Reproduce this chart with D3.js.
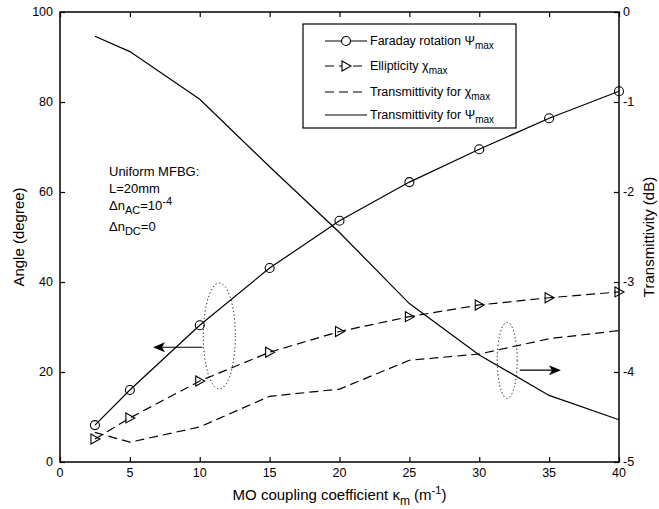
<!DOCTYPE html>
<html>
<head>
<meta charset="utf-8">
<script src="https://cdn.jsdelivr.net/npm/d3@7"></script>
<style>
  body { margin: 0; background: #fff; }
  svg text { font-family: "Liberation Sans", Arial, sans-serif; fill: #000; }
</style>
</head>
<body>
<div id="plot"></div>
<script>
// Data
const kappa = [2.5, 5, 10, 15, 20, 25, 30, 35, 40];
const faraday = [8.2, 16, 30.4, 43.1, 53.6, 62.2, 69.5, 76.4, 82.4];
const ellipticity = [5.1, 9.8, 18, 24.4, 29, 32.3, 34.9, 36.5, 37.8];
const transChi = [-4.67, -4.78, -4.61, -4.27, -4.19, -3.87, -3.8, -3.63, -3.54];
const transPsi = [-0.27, -0.44, -0.97, -1.72, -2.45, -3.24, -3.81, -4.26, -4.53];
const xTicks = [0, 5, 10, 15, 20, 25, 30, 35, 40];
const leftTicks = [0, 20, 40, 60, 80, 100];
const rightTicks = [0, -1, -2, -3, -4, -5];

const w = 659, h = 509;
const pLeft = 60, pRight = 619, pTop = 12, pBottom = 462;

const svg = d3.select("#plot").append("svg")
    .attr("width", w).attr("height", h);

//Scales
const x = d3.scaleLinear().domain([0, 40]).range([pLeft, pRight]);
const yL = d3.scaleLinear().domain([0, 100]).range([pBottom, pTop]);
const yR = d3.scaleLinear().domain([-5, 0]).range([pBottom, pTop]);

//Axes, ticks inward like matlab
const tick = 5;
svg.append("g").attr("transform", `translate(0,${pBottom})`)
    .call(d3.axisTop(x).tickValues(xTicks).tickSize(tick).tickFormat(""))
    .call(g => g.select(".domain").remove());
svg.append("g").attr("transform", `translate(0,${pTop})`)
    .call(d3.axisBottom(x).tickValues(xTicks).tickSize(tick).tickFormat(""))
    .call(g => g.select(".domain").remove());
svg.append("g").attr("transform", `translate(${pLeft},0)`)
    .call(d3.axisRight(yL).tickValues(leftTicks).tickSize(tick).tickFormat(""))
    .call(g => g.select(".domain").remove());
svg.append("g").attr("transform", `translate(${pRight},0)`)
    .call(d3.axisLeft(yR).tickValues(rightTicks).tickSize(tick).tickFormat(""))
    .call(g => g.select(".domain").remove());
svg.selectAll(".tick line").attr("stroke", "#000").attr("stroke-width", 1.2);

//Frame
svg.append("rect")
    .attr("x", pLeft).attr("y", pTop)
    .attr("width", pRight - pLeft).attr("height", pBottom - pTop)
    .attr("fill", "none").attr("stroke", "#000").attr("stroke-width", 1.5);

//Tick labels
svg.selectAll(".xl").data(xTicks).enter().append("text")
    .attr("x", d => x(d)).attr("y", pBottom + 15)
    .attr("text-anchor", "middle").attr("font-size", 12.5)
    .text(d => d);
svg.selectAll(".yl").data(leftTicks).enter().append("text")
    .attr("x", pLeft - 7).attr("y", d => yL(d) + 4)
    .attr("text-anchor", "end").attr("font-size", 12.5)
    .text(d => d);
svg.selectAll(".yr").data(rightTicks).enter().append("text")
    .attr("x", pRight + 4).attr("y", d => yR(d) + 4)
    .attr("text-anchor", "start").attr("font-size", 12.5)
    .text(d => d);

//Axis titles
svg.append("text")
    .attr("transform", `translate(24,${(pTop + pBottom) / 2}) rotate(-90)`)
    .attr("text-anchor", "middle").attr("font-size", 15)
    .text("Angle (degree)");
svg.append("text")
    .attr("transform", `translate(654,${(pTop + pBottom) / 2}) rotate(-90)`)
    .attr("text-anchor", "middle").attr("font-size", 15)
    .text("Transmittivity (dB)");
const xt = svg.append("text")
    .attr("x", (pLeft + pRight) / 2).attr("y", 500)
    .attr("text-anchor", "middle").attr("font-size", 15);
xt.append("tspan").text("MO coupling coefficient \u03ba");
xt.append("tspan").attr("font-size", 12).attr("dy", 5).text("m");
xt.append("tspan").attr("dy", -5).text(" (m");
xt.append("tspan").attr("font-size", 11).attr("dy", -6).text("-1");
xt.append("tspan").attr("dy", 6).text(")");

//Series
const lineL = d3.line().x(d => x(d[0])).y(d => yL(d[1]));
const lineR = d3.line().x(d => x(d[0])).y(d => yR(d[1]));
const zip = (a, b) => a.map((v, i) => [v, b[i]]);

const plot = svg.append("g");
plot.append("path").datum(zip(kappa, transPsi))
    .attr("d", lineR).attr("fill", "none").attr("stroke", "#000").attr("stroke-width", 1.2);
plot.append("path").datum(zip(kappa, transChi))
    .attr("d", lineR).attr("fill", "none").attr("stroke", "#000").attr("stroke-width", 1.2)
    .attr("stroke-dasharray", "9,5");
plot.append("path").datum(zip(kappa, ellipticity))
    .attr("d", lineL).attr("fill", "none").attr("stroke", "#000").attr("stroke-width", 1.2)
    .attr("stroke-dasharray", "9,5");
plot.append("path").datum(zip(kappa, faraday))
    .attr("d", lineL).attr("fill", "none").attr("stroke", "#000").attr("stroke-width", 1.2);

//Markers
const tri = "M-4,-5L5,0L-4,5Z";
plot.selectAll(".circ").data(zip(kappa, faraday)).enter().append("circle")
    .attr("cx", d => x(d[0])).attr("cy", d => yL(d[1])).attr("r", 4.5)
    .attr("fill", "none").attr("stroke", "#000").attr("stroke-width", 1.1);
plot.selectAll(".tri").data(zip(kappa, ellipticity)).enter().append("path")
    .attr("transform", d => `translate(${x(d[0])},${yL(d[1])})`)
    .attr("d", tri).attr("fill", "none").attr("stroke", "#000").attr("stroke-width", 1.1);

//Ellipses and arrows pointing to each axis
svg.append("defs").append("marker")
    .attr("id", "arr").attr("viewBox", "0 0 12 10")
    .attr("refX", 10).attr("refY", 5)
    .attr("markerWidth", 12).attr("markerHeight", 10)
    .attr("markerUnits", "userSpaceOnUse").attr("orient", "auto")
    .append("path").attr("d", "M0,0L12,5L0,10L3,5Z").attr("fill", "#000");

svg.append("ellipse")
    .attr("cx", x(11.4)).attr("cy", yL(28)).attr("rx", 16).attr("ry", 53)
    .attr("fill", "none").attr("stroke", "#000").attr("stroke-dasharray", "1.2,2.5");
svg.append("line")
    .attr("x1", x(10.2)).attr("y1", yL(25.5)).attr("x2", x(6.8)).attr("y2", yL(25.5))
    .attr("stroke", "#000").attr("stroke-width", 1.2).attr("marker-end", "url(#arr)");

svg.append("ellipse")
    .attr("cx", x(32)).attr("cy", yR(-3.87)).attr("rx", 10).attr("ry", 38)
    .attr("fill", "none").attr("stroke", "#000").attr("stroke-dasharray", "1.2,2.5");
svg.append("line")
    .attr("x1", x(32.9)).attr("y1", yR(-3.98)).attr("x2", x(35.7)).attr("y2", yR(-3.98))
    .attr("stroke", "#000").attr("stroke-width", 1.2).attr("marker-end", "url(#arr)");

//Annotation text
const ann = svg.append("g").attr("font-size", 13);
ann.append("text").attr("x", 109).attr("y", 176).text("Uniform MFBG:");
ann.append("text").attr("x", 109).attr("y", 193).text("L=20mm");
const t3 = ann.append("text").attr("x", 109).attr("y", 210);
t3.append("tspan").text("\u0394n");
t3.append("tspan").attr("font-size", 11).attr("dy", 4).text("AC");
t3.append("tspan").attr("dy", -4).text("=10");
t3.append("tspan").attr("font-size", 11).attr("dy", -5).text("-4");
const t4 = ann.append("text").attr("x", 109).attr("y", 231);
t4.append("tspan").text("\u0394n");
t4.append("tspan").attr("font-size", 11).attr("dy", 4).text("DC");
t4.append("tspan").attr("dy", -4).text("=0");

//Legend
const lg = svg.append("g");
lg.append("rect").attr("x", 303).attr("y", 24).attr("width", 213).attr("height", 104)
    .attr("fill", "#fff").attr("stroke", "#000").attr("stroke-width", 1.2);
const legItems = [
    { name: "Faraday rotation \u03a8", dash: null, mark: "circle", y: 41 },
    { name: "Ellipticity \u03c7", dash: "9,5", mark: "tri", y: 66 },
    { name: "Transmittivity for \u03c7", dash: "9,5", mark: null, y: 92 },
    { name: "Transmittivity for \u03a8", dash: null, mark: null, y: 115 }
];
const li = lg.selectAll("g").data(legItems).enter().append("g")
    .attr("transform", d => `translate(0,${d.y})`);
li.append("line").attr("x1", 325).attr("x2", 367).attr("y1", 0).attr("y2", 0)
    .attr("stroke", "#000").attr("stroke-width", 1.2)
    .attr("stroke-dasharray", d => d.dash);
li.filter(d => d.mark === "circle").append("circle")
    .attr("cx", 346).attr("cy", 0).attr("r", 4.5)
    .attr("fill", "#fff").attr("stroke", "#000").attr("stroke-width", 1.1);
li.filter(d => d.mark === "tri").append("path")
    .attr("transform", "translate(346,0)").attr("d", tri)
    .attr("fill", "#fff").attr("stroke", "#000").attr("stroke-width", 1.1);
const lt = li.append("text").attr("x", 370).attr("y", 4).attr("font-size", 12.5);
lt.append("tspan").text(d => d.name);
lt.append("tspan").attr("font-size", 10).attr("dy", 4).text("max");
</script>
</body>
</html>
